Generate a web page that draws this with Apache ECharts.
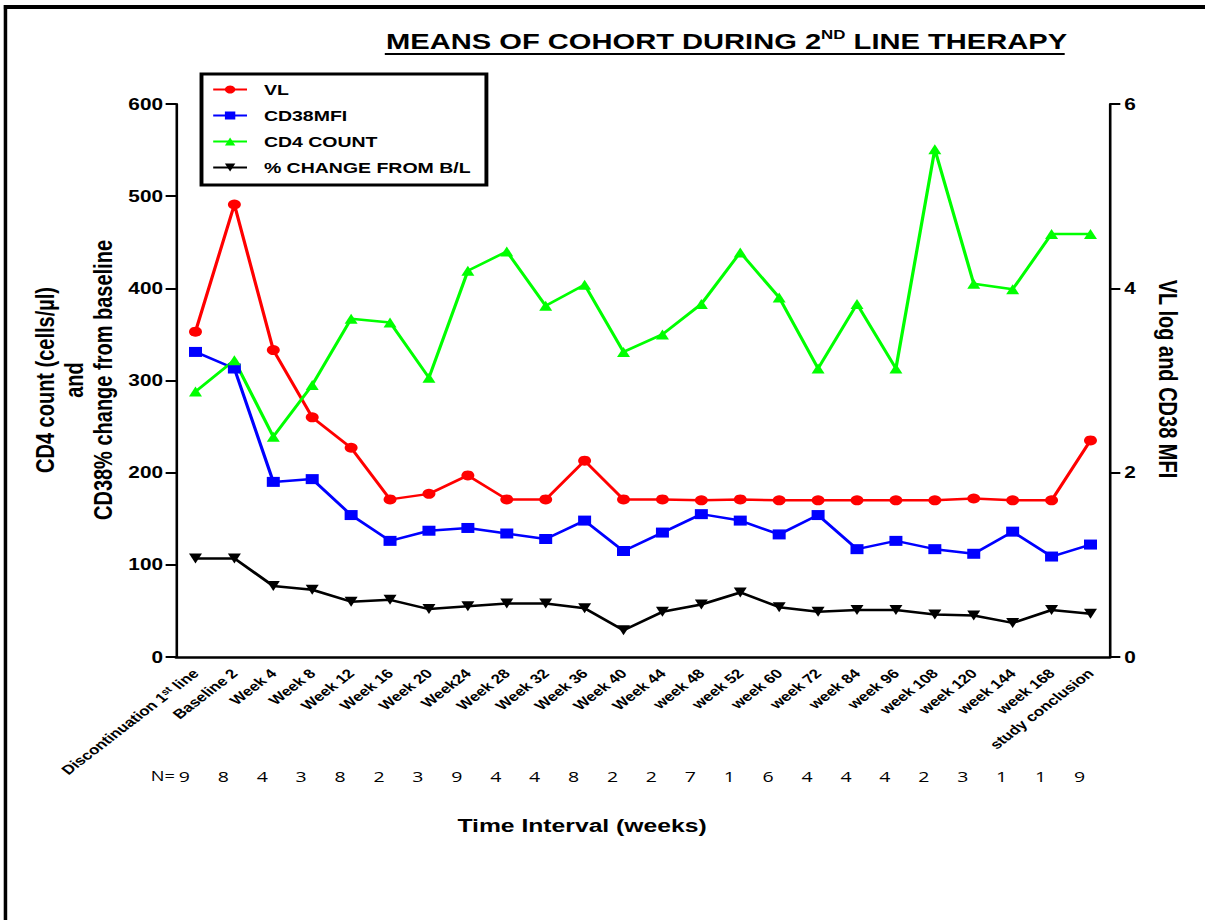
<!DOCTYPE html>
<html>
<head>
<meta charset="utf-8">
<title>Means of cohort during 2nd line therapy</title>
<script src="https://cdn.jsdelivr.net/npm/echarts@6.0.0/dist/echarts.min.js"></script>
<style>
  html, body { margin: 0; padding: 0; background: #fff; overflow: hidden; }
  /* the original figure is stretched horizontally, so draw narrow and scale */
  #chart { width: 927px; height: 920px; transform: scaleX(1.3); transform-origin: 0 0; }
</style>
</head>
<body>
<div id="chart"></div>
<script>
// time points
const timePoints = ['Discontinuation 1st line', 'Baseline 2', 'Week 4', 'Week 8', 'Week 12', 'Week 16',
  'Week 20', 'Week24', 'Week 28', 'Week 32', 'Week 36', 'Week 40', 'Week 44', 'week 48', 'week 52',
  'week 60', 'week 72', 'week 84', 'week 96', 'week 108', 'week 120', 'week 144', 'week 168', 'study conclusion']
// number of patients per time point
const nCounts = ['9', '8', '4', '3', '8', '2', '3', '9', '4', '4', '8', '2', '2', '7', '1', '6', '4', '4', '4', '2', '3', '1', '1', '9']

// right axis (VL log, CD38 MFI)
const vlLog = [3.53, 4.91, 3.33, 2.60, 2.27, 1.71, 1.77, 1.97, 1.71, 1.71, 2.13, 1.71,
  1.71, 1.70, 1.71, 1.70, 1.70, 1.70, 1.70, 1.70, 1.72, 1.70, 1.70, 2.35]
const cd38Mfi = [3.31, 3.13, 1.90, 1.93, 1.54, 1.26, 1.37, 1.40, 1.34, 1.28, 1.48, 1.15,
  1.35, 1.55, 1.48, 1.33, 1.54, 1.17, 1.26, 1.17, 1.12, 1.36, 1.09, 1.22]
// left axis (CD4 count, % change)
const cd4Count = [288, 322, 239, 295, 367, 363, 303, 419, 440, 381, 404, 331,
  350, 383, 439, 390, 313, 383, 313, 551, 405, 399, 459, 459]
const pctChange = [107, 107, 77, 73, 60, 62, 52, 55, 58, 58, 53, 29,
  49, 57, 70, 54, 49, 51, 51, 46, 45, 37, 51, 47]

const leftTicks = { min: 0, max: 600, interval: 100 }
const rightTicks = { min: 0, max: 6, interval: 2 }

const FONT = '"Liberation Sans", Arial, sans-serif'
const N_FONT = '"Open Sans", "Noto Sans", sans-serif'

const chart = echarts.init(document.getElementById('chart'), null, { renderer: 'svg' })

function lineSeries (name, data, axis, color, symbol, rotate) {
  return {
    name: name,
    type: 'line',
    yAxisIndex: axis,
    data: data,
    symbol: symbol,
    symbolSize: 10,
    symbolRotate: rotate || 0,
    lineStyle: { color: color, width: 2.5 },
    itemStyle: { color: color },
    emphasis: { disabled: true }
  }
}

const option = {
  animation: false,
  backgroundColor: '#fff',
  title: {
    text: '{a|MEANS OF COHORT DURING 2}{sup|ND}{a| LINE THERAPY}',
    left: 297,
    top: 28,
    padding: 0,
    textStyle: {
      rich: {
        a: { fontFamily: FONT, fontWeight: 'bold', fontSize: 22.4, lineHeight: 26, color: '#000' },
        sup: { fontFamily: FONT, fontWeight: 'bold', fontSize: 13, lineHeight: 13, color: '#000', verticalAlign: 'top' }
      }
    }
  },
  legend: {
    orient: 'vertical',
    left: 155,
    top: 74,
    itemWidth: 26,
    itemHeight: 10,
    itemGap: 11,
    padding: [8, 12, 10, 8],
    borderColor: '#000',
    borderWidth: 3,
    selectedMode: false,
    textStyle: { fontFamily: FONT, fontWeight: 'bold', fontSize: 15, color: '#000', padding: [0, 0, 0, 8] },
    data: ['VL', 'CD38MFI', 'CD4 COUNT', '% CHANGE FROM B/L']
  },
  grid: { left: 135.4, right: 73.2, top: 104, bottom: 263 },
  xAxis: [
    {
      type: 'category',
      data: timePoints,
      axisLine: { lineStyle: { color: '#000', width: 2.5 } },
      axisTick: { alignWithLabel: true, length: 8, lineStyle: { color: '#000', width: 2 } },
      axisLabel: {
        interval: 0,
        rotate: 45,
        margin: 14,
        color: '#000',
        fontFamily: FONT,
        fontWeight: 'bold',
        fontSize: 13,
        formatter: function (v) {
          return v.replace('1st', '1{sup|st}')
        },
        rich: {
          sup: { fontFamily: FONT, fontWeight: 'bold', fontSize: 9, color: '#000', verticalAlign: 'top', lineHeight: 9 }
        }
      }
    },
    {
      type: 'category',
      data: nCounts,
      position: 'bottom',
      offset: 111,
      axisLine: { show: false },
      axisTick: { show: false },
      axisLabel: {
        interval: 0,
        margin: 0,
        color: '#000',
        fontFamily: N_FONT,
        fontSize: 15,
        padding: [0, 17, 0, 0]
      }
    }
  ],
  yAxis: [
    {
      type: 'value',
      min: leftTicks.min,
      max: leftTicks.max,
      interval: leftTicks.interval,
      axisLine: { show: true, lineStyle: { color: '#000', width: 2 } },
      axisTick: { show: true, length: 8, lineStyle: { color: '#000', width: 2 } },
      axisLabel: { margin: 10, color: '#000', fontFamily: FONT, fontWeight: 'bold', fontSize: 16 },
      splitLine: { show: false }
    },
    {
      type: 'value',
      min: rightTicks.min,
      max: rightTicks.max,
      interval: rightTicks.interval,
      position: 'right',
      axisLine: { show: true, lineStyle: { color: '#000', width: 2 } },
      axisTick: { show: true, length: 8, lineStyle: { color: '#000', width: 2 } },
      axisLabel: { margin: 11, color: '#000', fontFamily: FONT, fontWeight: 'bold', fontSize: 16 },
      splitLine: { show: false }
    }
  ],
  graphic: [
    // frame
    { type: 'line', shape: { x1: 4.2, y1: 5, x2: 4.2, y2: 920 }, style: { stroke: '#000', lineWidth: 2.7 } },
    { type: 'line', shape: { x1: 3, y1: 7, x2: 927, y2: 7 }, style: { stroke: '#000', lineWidth: 4 } },
    // title underline
    { type: 'line', shape: { x1: 296, y1: 54, x2: 819, y2: 54 }, style: { stroke: '#000', lineWidth: 2 } },
    // axis names
    {
      type: 'text',
      x: 57,
      y: 380,
      rotation: Math.PI / 2,
      style: {
        text: 'CD4 count (cells/µl)\nand\nCD38% change from baseline',
        font: 'bold 20px ' + FONT,
        lineHeight: 22,
        fill: '#000',
        align: 'center',
        verticalAlign: 'middle'
      }
    },
    {
      type: 'text',
      x: 898.5,
      y: 379,
      rotation: -Math.PI / 2,
      style: {
        text: 'VL log and CD38 MFI',
        font: 'bold 20px ' + FONT,
        fill: '#000',
        align: 'center',
        verticalAlign: 'middle'
      }
    },
    {
      type: 'text',
      x: 447.7,
      y: 826,
      style: {
        text: 'Time Interval (weeks)',
        font: 'bold 19px ' + FONT,
        fill: '#000',
        align: 'center',
        verticalAlign: 'middle'
      }
    },
    {
      type: 'text',
      x: 116,
      y: 776,
      style: {
        text: 'N=',
        font: '14px ' + N_FONT,
        fill: '#000',
        align: 'left',
        verticalAlign: 'middle'
      }
    }
  ],
  series: [
    lineSeries('VL', vlLog, 1, '#ff0000', 'circle'),
    lineSeries('CD38MFI', cd38Mfi, 1, '#0000ff', 'rect'),
    lineSeries('CD4 COUNT', cd4Count, 0, '#00ff00', 'triangle'),
    lineSeries('% CHANGE FROM B/L', pctChange, 0, '#000000', 'triangle', 180)
  ]
}

chart.setOption(option)
</script>
</body>
</html>
